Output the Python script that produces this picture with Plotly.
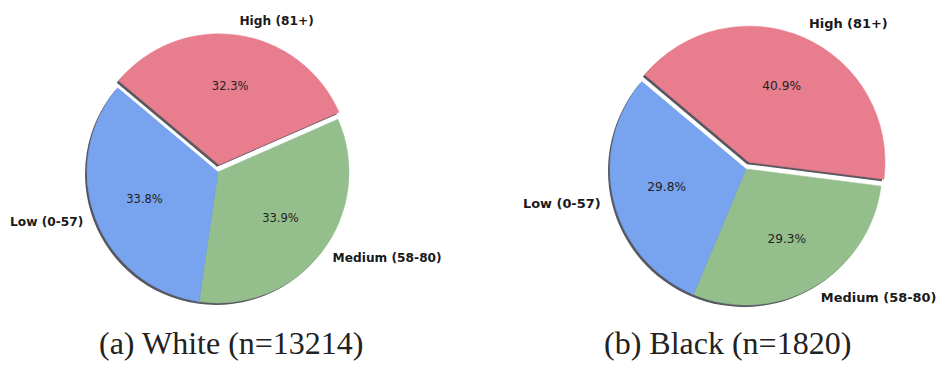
import math
import plotly.graph_objects as go

# ---- data ----
categories = ["High (81+)", "Medium (58-80)", "Low (0-57)"]
white_pct = [32.3, 33.9, 33.8]
black_pct = [40.9, 29.3, 29.8]
captions = ["(a) White (n=13214)", "(b) Black (n=1820)"]

# ---- style ----
W, H = 949, 371
colors = ["#e87d8e", "#94bf8c", "#77a3ef"]
explode = [0.055, 0, 0]          # fraction of radius
shadow_col = "rgba(45,45,55,0.8)"
start_angle = 140                # degrees, counter-clockwise from 3 o'clock
pct_dist, lab_dist = 0.6, 1.1
RNG = 1.18                       # radial axis range (pie radius == 1)

# pie geometry (center px from left/top, radius px, font scale)
pies = [
    dict(values=white_pct, cx=218, cy=172, r=131, fs=1.0),
    dict(values=black_pct, cx=746, cy=169, r=136, fs=1.06),
]

fig = go.Figure()
layout_polars = {}
shadow_specs, main_specs = [], []

for p in pies:
    vals = p["values"]
    total = sum(vals)
    cum = 0.0
    for i, v in enumerate(vals):
        width = v / total * 360
        theta = (cum + v / 2) / total * 360
        cum += v
        phi = math.radians(start_angle - theta)
        off = explode[i] * p["r"]
        scx = p["cx"] + off * math.cos(phi)
        scy = p["cy"] - off * math.sin(phi)
        shadow_specs.append(dict(cx=scx - 2, cy=scy + 2, r=p["r"], theta=theta, width=width))
        main_specs.append(dict(cx=scx, cy=scy, r=p["r"], theta=theta, width=width,
                               color=colors[i], label=categories[i],
                               pct=f"{v / total * 100:.1f}%", fs=p["fs"],
                               side=math.cos(phi)))


def polar_dom(cx, cy, r):
    half = r * RNG
    yb = H - cy
    return dict(x=[(cx - half) / W, (cx + half) / W], y=[(yb - half) / H, (yb + half) / H])


n = 0


def new_polar(cx, cy, r):
    global n
    n += 1
    name = "polar" if n == 1 else f"polar{n}"
    layout_polars[name] = dict(
        domain=polar_dom(cx, cy, r), bgcolor="rgba(0,0,0,0)", bargap=0,
        radialaxis=dict(visible=False, range=[0, RNG]),
        angularaxis=dict(visible=False, rotation=start_angle, direction="clockwise"),
    )
    return name


# shadows first (beneath all wedges)
for s in shadow_specs:
    sp = new_polar(s["cx"], s["cy"], s["r"])
    fig.add_trace(go.Barpolar(
        r=[1], theta=[s["theta"]], width=[s["width"]], subplot=sp,
        marker=dict(color=shadow_col, line=dict(width=0)),
        hoverinfo="skip", showlegend=False,
    ))

# wedges + texts
for m in main_specs:
    sp = new_polar(m["cx"], m["cy"], m["r"])
    fig.add_trace(go.Barpolar(
        r=[1], theta=[m["theta"]], width=[m["width"]], subplot=sp,
        marker=dict(color=m["color"], line=dict(color=m["color"], width=0.6)),
        hoverinfo="skip", showlegend=False,
    ))
    fig.add_trace(go.Scatterpolar(
        r=[pct_dist], theta=[m["theta"]], mode="text", text=[m["pct"]],
        textposition="middle center", subplot=sp, cliponaxis=False,
        textfont=dict(family="DejaVu Sans", size=11.5 * m["fs"], color="#222222"),
        hoverinfo="skip", showlegend=False,
    ))
    fig.add_trace(go.Scatterpolar(
        r=[lab_dist], theta=[m["theta"]], mode="text", text=[m["label"]],
        textposition="middle right" if m["side"] > 0 else "middle left",
        subplot=sp, cliponaxis=False,
        textfont=dict(family="DejaVu Sans", size=12.2 * m["fs"], color="#1a1a1a",
                      weight="bold"),
        hoverinfo="skip", showlegend=False,
    ))

cap_x = [231 / W, 727 / W]
for t, x in zip(captions, cap_x):
    fig.add_annotation(
        text=t, x=x, y=(H - 343) / H, xref="paper", yref="paper",
        showarrow=False, xanchor="center", yanchor="middle",
        font=dict(family="Liberation Serif", size=32, color="#222222"),
    )

fig.update_layout(
    width=W, height=H, margin=dict(l=0, r=0, t=0, b=0),
    paper_bgcolor="white", plot_bgcolor="white", showlegend=False,
    **layout_polars,
)

fig.write_html("out.html")
